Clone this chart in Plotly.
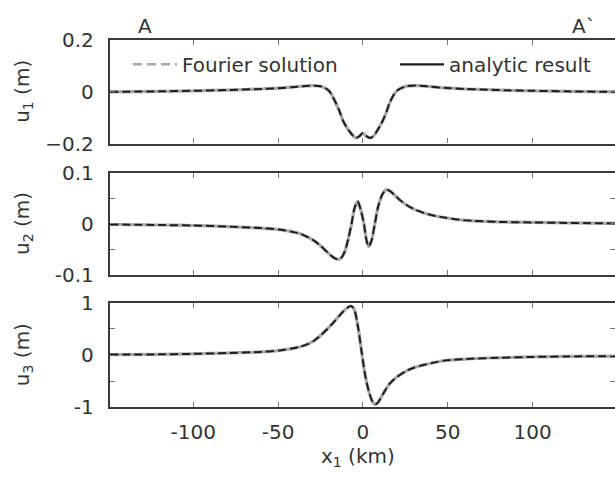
import plotly.graph_objects as go

# ---------------- data ----------------
x_u1 = [-149, -120, -100, -80, -60, -50, -42, -35, -29, -24, -20, -16, -13.5, -11.6, -9.5, -7.6, -5.8, -4.1, -2, 0,
        2, 4.5, 6.3, 8.4, 10.2, 12, 14, 15.9, 19.8, 25.7, 33.5, 40, 49, 60, 70, 85, 100, 120, 148.5]
u1 = [0.0, 0.002, 0.004, 0.007, 0.011, 0.014, 0.018, 0.022, 0.024, 0.02, 0.004, -0.042, -0.08, -0.113, -0.138, -0.155, -0.17, -0.178, -0.171, -0.159,
      -0.171, -0.178, -0.17, -0.15, -0.13, -0.107, -0.075, -0.04, 0.003, 0.022, 0.024, 0.02, 0.015, 0.011, 0.009, 0.006, 0.004, 0.002, 0.0]

x_u2 = [-149, -120, -100, -80, -60, -49, -42, -37, -30, -25.5, -20, -17, -14.5, -12.5, -10.5, -8.5, -6.7, -5, -3.1, -1.5, 0.6,
        2, 3.3, 5, 7, 9, 11.5, 13.9, 16, 18.8, 22, 25.7, 30, 35.5, 42, 49, 56, 65, 80, 100, 120, 148.5]
u2 = [-0.001, -0.002, -0.003, -0.005, -0.008, -0.011, -0.015, -0.019, -0.03, -0.041, -0.058, -0.066, -0.069, -0.065, -0.052, -0.027, 0.0, 0.03, 0.044, 0.03, 0.0,
      -0.03, -0.044, -0.033, 0.0, 0.034, 0.058, 0.067, 0.064, 0.056, 0.046, 0.037, 0.029, 0.022, 0.016, 0.012, 0.0085, 0.006, 0.004, 0.003, 0.002, 0.001]

x_u3 = [-149, -120, -100, -80, -60, -49, -42, -37, -33, -29, -25.5, -21, -17.5, -14, -11.6, -9, -7.3, -5.8, -4.7, -2.7, -0.8,
        1.2, 3.7, 5.5, 7, 8.5, 10, 13, 15.9, 20, 25.7, 30, 35.5, 42, 49, 60, 80, 100, 120, 148.5]
u3 = [0.01, 0.015, 0.025, 0.04, 0.062, 0.09, 0.125, 0.16, 0.205, 0.27, 0.36, 0.5, 0.62, 0.75, 0.835, 0.91, 0.94, 0.91, 0.835, 0.5, 0.07,
      -0.36, -0.72, -0.88, -0.94, -0.92, -0.85, -0.68, -0.54, -0.42, -0.30, -0.24, -0.19, -0.14, -0.10, -0.075, -0.05, -0.035, -0.025, -0.02]

x_ticks = [-100, -50, 0, 50, 100]
x_ticktext = ["-100", "-50", "0", "50", "100"]
y1_ticks, y1_text = [-0.2, 0, 0.2], ["\u22120.2", "0", "0.2"]
y2_ticks, y2_text = [-0.1, 0, 0.1], ["-0.1", "0", "0.1"]
y3_ticks, y3_text = [-1, 0, 1], ["-1", "0", "1"]
y_titles = ["u<sub>1</sub> (m)", "u<sub>2</sub> (m)", "u<sub>3</sub> (m)"]
series_names = ["Fourier solution", "analytic result"]

# ---------------- styling ----------------
W, H = 615, 485
FONT = "DejaVu Sans"
FS = 20
TXT = "#333333"
LINE = "#3a3a3a"
x_range = [-149.0, 148.5]
left = 110 / W
panels = [(29.5, 138.5), (169, 277), (306, 416)]
doms = [[1 - b / H, 1 - t / H] for t, b in panels]
y_ranges = [[-0.2, 0.2], [-0.1, 0.1], [-1, 1]]
minor_dt = [None, 0.05, 0.5]

fig = go.Figure()
xs = [x_u1, x_u2, x_u3]
ys = [u1, u2, u3]
for i in range(3):
    xa = "x" if i == 0 else f"x{i+1}"
    ya = "y" if i == 0 else f"y{i+1}"
    fig.add_trace(go.Scatter(x=xs[i], y=ys[i], mode="lines", xaxis=xa, yaxis=ya,
                             line=dict(color="#a8a8a8", width=3.2, shape="spline", smoothing=0.8),
                             name=series_names[0], showlegend=False))
    fig.add_trace(go.Scatter(x=xs[i], y=ys[i], mode="lines", xaxis=xa, yaxis=ya,
                             line=dict(color="#1e1e1e", width=2, dash="8px,4px", shape="spline", smoothing=0.8),
                             name=series_names[1], showlegend=False))
    fig.add_trace(go.Scatter(x=[], y=[], xaxis=xa, yaxis=f"y{i+4}", showlegend=False, hoverinfo="skip"))

# legend entries
fig.add_trace(go.Scatter(x=[None], y=[None], mode="lines", name=series_names[0], legend="legend",
                         line=dict(color="#a8a8a8", width=2.5, dash="9px,5px")))
fig.add_trace(go.Scatter(x=[None], y=[None], mode="lines", name=series_names[1], legend="legend2",
                         line=dict(color="#1e1e1e", width=2.2)))

tick_sets = [(y1_ticks, y1_text), (y2_ticks, y2_text), (y3_ticks, y3_text)]
for i in range(3):
    xk = "xaxis" if i == 0 else f"xaxis{i+1}"
    yk = "yaxis" if i == 0 else f"yaxis{i+1}"
    ya = "y" if i == 0 else f"y{i+1}"
    xa = "x" if i == 0 else f"x{i+1}"
    fig.layout[xk] = dict(domain=[left, 1], anchor=ya, range=x_range, showline=True, linewidth=2.4,
                          linecolor=LINE, mirror="ticks", ticks="inside", ticklen=5, tickwidth=1,
                          tickcolor="#777", tickvals=x_ticks, ticktext=x_ticktext,
                          showticklabels=(i == 2), showgrid=False, zeroline=False,
                          ticklabelstandoff=5,
                          tickfont=dict(family=FONT, size=FS, color=TXT))
    minor = dict(ticks="inside", ticklen=5, dtick=minor_dt[i], tickcolor="#777", tickwidth=1) if minor_dt[i] else None
    ydict = dict(domain=doms[i], anchor=xa, range=y_ranges[i], showline=True, linewidth=2.4,
                 linecolor=LINE, mirror=False, ticks="inside", ticklen=5, tickwidth=1, tickcolor="#777",
                 tickvals=tick_sets[i][0], ticktext=tick_sets[i][1], showgrid=False, zeroline=False,
                 ticklabelstandoff=10, tickfont=dict(family=FONT, size=FS, color=TXT))
    if minor:
        ydict["minor"] = minor
    fig.layout[yk] = ydict
    rdict = dict(overlaying=ya, side="right", anchor=xa, range=y_ranges[i], showline=False,
                 ticks="inside", ticklen=5, tickwidth=1, tickcolor="#777", tickvals=tick_sets[i][0],
                 showticklabels=False, showgrid=False, zeroline=False)
    if minor:
        rdict["minor"] = minor
    fig.layout[f"yaxis{i+4}"] = rdict

annots = []
for i in range(3):
    t, b = panels[i]
    annots.append(dict(text=y_titles[i], x=23 / W, y=1 - (t + b) / 2 / H, xref="paper", yref="paper",
                       xanchor="center", yanchor="middle", textangle=-90, showarrow=False,
                       font=dict(family=FONT, size=FS, color=TXT)))
annots.append(dict(text="x<sub>1</sub> (km)", x=358 / W, y=1 - 468 / H, xref="paper", yref="paper",
                   xanchor="center", yanchor="middle", showarrow=False,
                   font=dict(family=FONT, size=FS, color=TXT)))
annots.append(dict(text="A", x=145 / W, y=1 - 15 / H, xref="paper", yref="paper",
                   xanchor="center", yanchor="middle", showarrow=False,
                   font=dict(family=FONT, size=FS, color=TXT)))
annots.append(dict(text="A`", x=584 / W, y=1 - 15 / H, xref="paper", yref="paper",
                   xanchor="center", yanchor="middle", showarrow=False,
                   font=dict(family=FONT, size=FS, color=TXT)))

leg_common = dict(yanchor="middle", y=1 - 55 / H, xanchor="left", bgcolor="rgba(0,0,0,0)",
                  borderwidth=0, itemwidth=44, font=dict(family=FONT, size=FS, color=TXT))
fig.update_layout(
    width=W, height=H, margin=dict(l=0, r=0, t=0, b=0),
    paper_bgcolor="white", plot_bgcolor="white",
    font=dict(family=FONT, size=FS, color=TXT),
    annotations=annots,
    legend=dict(x=128 / W, **leg_common),
    legend2=dict(x=395 / W, **leg_common),
)

fig.write_html("out.html")
